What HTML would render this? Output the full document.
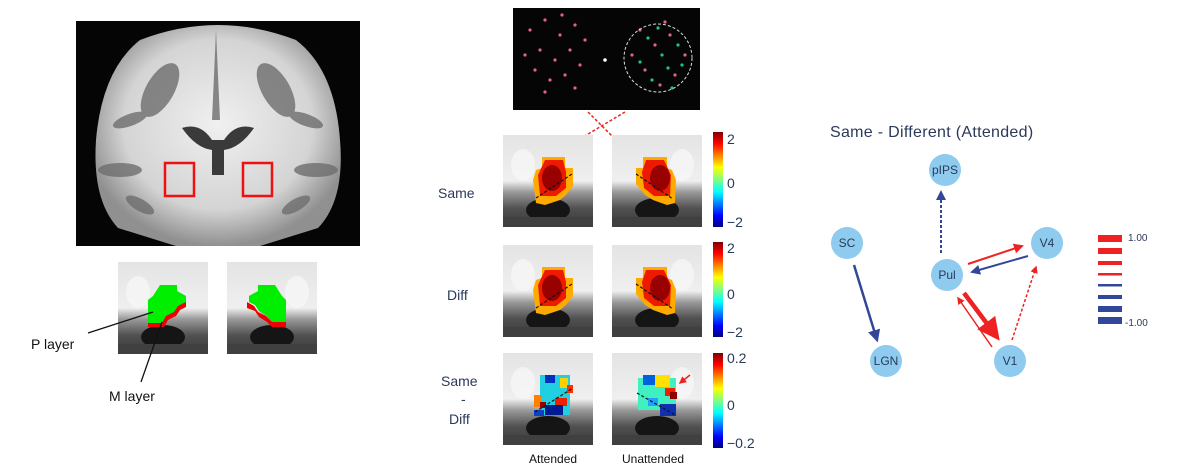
<!DOCTYPE html>
<html><head><meta charset="utf-8"><style>
html,body{margin:0;padding:0;background:#fff;}
svg{display:block;font-family:"Liberation Sans","DejaVu Sans",sans-serif;}
</style></head><body>
<svg width="1199" height="475" viewBox="0 0 1199 475" xmlns="http://www.w3.org/2000/svg">
<defs>
 <radialGradient id="brainG" cx="50%" cy="45%" r="55%">
  <stop offset="0" stop-color="#f0f0f0"/><stop offset="0.7" stop-color="#d4d4d4"/><stop offset="1" stop-color="#909090"/>
 </radialGradient>
 <linearGradient id="thG" x1="0" y1="0" x2="0" y2="1">
  <stop offset="0" stop-color="#e4e4e4"/><stop offset="0.5" stop-color="#efefef"/><stop offset="0.62" stop-color="#9a9a9a"/><stop offset="0.8" stop-color="#505050"/><stop offset="1" stop-color="#3a3a3a"/>
 </linearGradient>
 <linearGradient id="jet" x1="0" y1="0" x2="0" y2="1">
  <stop offset="0" stop-color="#800000"/><stop offset="0.12" stop-color="#ff0000"/><stop offset="0.37" stop-color="#ffff00"/><stop offset="0.5" stop-color="#80ff80"/><stop offset="0.63" stop-color="#00ffff"/><stop offset="0.88" stop-color="#0000ff"/><stop offset="1" stop-color="#000080"/>
 </linearGradient>
 <symbol id="thumb" viewBox="0 0 90 92" width="90" height="92">
  <rect width="90" height="92" fill="url(#thG)"/>
  <ellipse cx="20" cy="30" rx="12" ry="16" fill="#f8f8f8" opacity="0.7"/>
  <ellipse cx="45" cy="75" rx="22" ry="12" fill="#151515"/>
  <rect x="0" y="82" width="90" height="10" fill="#404040"/>
 </symbol>
 <symbol id="thumbR" viewBox="0 0 90 92" width="90" height="92">
  <rect width="90" height="92" fill="url(#thG)"/>
  <ellipse cx="70" cy="30" rx="12" ry="16" fill="#f8f8f8" opacity="0.7"/>
  <ellipse cx="45" cy="75" rx="22" ry="12" fill="#151515"/>
  <rect x="0" y="82" width="90" height="10" fill="#404040"/>
 </symbol>
 <marker id="aR" viewBox="0 0 10 10" refX="8" refY="5" markerWidth="5" markerHeight="5" orient="auto"><path d="M0,0L10,5L0,10z" fill="#ee2222"/></marker>
 <marker id="aB" viewBox="0 0 10 10" refX="8" refY="5" markerWidth="5" markerHeight="5" orient="auto"><path d="M0,0L10,5L0,10z" fill="#33479a"/></marker>
</defs>

<!-- Left brain -->
<rect x="76" y="21" width="284" height="225" fill="#050505"/>
<path d="M140,40 Q218,10 296,40 Q335,70 340,140 Q345,200 318,228 L260,246 L176,246 L118,228 Q92,200 96,140 Q102,70 140,40Z" fill="url(#brainG)"/>
<g fill="#6e6e6e" opacity="0.8">
 <path d="M216,30 L220,120 L212,120Z"/>
 <ellipse cx="160" cy="90" rx="14" ry="30" transform="rotate(30 160 90)"/>
 <ellipse cx="276" cy="90" rx="14" ry="30" transform="rotate(-30 276 90)"/>
 <ellipse cx="120" cy="170" rx="22" ry="7"/>
 <ellipse cx="316" cy="170" rx="22" ry="7"/>
 <ellipse cx="130" cy="120" rx="18" ry="6" transform="rotate(-20 130 120)"/>
 <ellipse cx="306" cy="120" rx="18" ry="6" transform="rotate(20 306 120)"/>
 <ellipse cx="140" cy="205" rx="16" ry="6" transform="rotate(30 140 205)"/>
 <ellipse cx="296" cy="205" rx="16" ry="6" transform="rotate(-30 296 205)"/>
</g>
<path d="M182,128 Q200,122 212,140 L224,140 Q236,122 254,128 Q240,148 224,150 L224,175 L212,175 L212,150 Q196,148 182,128Z" fill="#3a3a3a"/>
<rect x="165" y="163" width="29" height="33" fill="none" stroke="#ee1111" stroke-width="2.5"/>
<rect x="243" y="163" width="29" height="33" fill="none" stroke="#ee1111" stroke-width="2.5"/>

<!-- small thumbs -->
<use href="#thumb" x="118" y="262"/>
<use href="#thumbR" x="227" y="262"/>
<path d="M160,285 L177,285 L177,291 L186,296 L186,305 L180,308 L176,314 L168,318 L164,325 L148,325 L148,300 L153,296Z" fill="#00ee00"/>
<path d="M186,302 L186,307 L180,310 L176,316 L168,320 L164,327 L148,327 L148,323 L162,323 L166,316 L174,312 L178,306Z" fill="#ee0000"/>
<path d="M275,285 L258,285 L258,291 L249,296 L249,302 L255,305 L259,311 L267,316 L272,322 L286,322 L286,300 L282,296Z" fill="#00ee00"/>
<path d="M247,302 L247,308 L255,311 L259,317 L267,322 L272,327 L286,327 L286,322 L272,322 L266,316 L258,312 L254,306Z" fill="#ee0000"/>
<line x1="88" y1="333" x2="153" y2="312" stroke="#111" stroke-width="1.3"/>
<line x1="141" y1="382" x2="162" y2="322" stroke="#111" stroke-width="1.3"/>
<text x="31" y="349" font-size="14" fill="#111">P layer</text>
<text x="109" y="401" font-size="14" fill="#111">M layer</text>

<!-- stimulus -->
<rect x="513" y="8" width="187" height="102" fill="#050505"/>
<g fill="#e0609a">
 <circle cx="530" cy="30" r="1.6"/><circle cx="545" cy="20" r="1.6"/><circle cx="560" cy="35" r="1.6"/><circle cx="575" cy="25" r="1.6"/><circle cx="540" cy="50" r="1.6"/><circle cx="555" cy="60" r="1.6"/><circle cx="570" cy="50" r="1.6"/><circle cx="585" cy="40" r="1.6"/><circle cx="535" cy="70" r="1.6"/><circle cx="550" cy="80" r="1.6"/><circle cx="565" cy="75" r="1.6"/><circle cx="580" cy="65" r="1.6"/><circle cx="545" cy="92" r="1.6"/><circle cx="575" cy="88" r="1.6"/><circle cx="525" cy="55" r="1.6"/><circle cx="562" cy="15" r="1.6"/>
 <circle cx="640" cy="30" r="1.6"/><circle cx="655" cy="45" r="1.6"/><circle cx="670" cy="35" r="1.6"/><circle cx="685" cy="55" r="1.6"/><circle cx="645" cy="70" r="1.6"/><circle cx="660" cy="85" r="1.6"/><circle cx="675" cy="75" r="1.6"/><circle cx="632" cy="55" r="1.6"/><circle cx="665" cy="22" r="1.6"/>
</g>
<g fill="#20c090">
 <circle cx="648" cy="38" r="1.6"/><circle cx="662" cy="55" r="1.6"/><circle cx="678" cy="45" r="1.6"/><circle cx="640" cy="62" r="1.6"/><circle cx="668" cy="68" r="1.6"/><circle cx="652" cy="80" r="1.6"/><circle cx="682" cy="65" r="1.6"/><circle cx="658" cy="28" r="1.6"/><circle cx="672" cy="88" r="1.6"/>
</g>
<circle cx="605" cy="60" r="1.8" fill="#fff"/>
<circle cx="658" cy="58" r="34" fill="none" stroke="#ddd" stroke-width="1" stroke-dasharray="3,2"/>
<line x1="588" y1="112" x2="622" y2="146" stroke="#ee2222" stroke-width="1.5" stroke-dasharray="3,2" marker-end="url(#aR)"/>
<line x1="625" y1="112" x2="568" y2="146" stroke="#ee2222" stroke-width="1.5" stroke-dasharray="3,2" marker-end="url(#aR)"/>

<!-- thumbs grid -->
<g>
 <use href="#thumb" x="503" y="135"/><use href="#thumbR" x="612" y="135"/>
 <use href="#thumb" x="503" y="245"/><use href="#thumbR" x="612" y="245"/>
 <use href="#thumb" x="503" y="353"/><use href="#thumbR" x="612" y="353"/>
</g>
<g id="hL">
 <path d="M542,157 L565,157 L565,168 L573,168 L573,186 L566,195 L560,200 L545,205 L536,203 L533,180 L536,170 L542,168Z" fill="#ffaa00"/>
 <path d="M545,160 L563,160 L566,172 L566,188 L556,196 L540,196 L538,175Z" fill="#ee1a00"/>
 <ellipse cx="552" cy="178" rx="10" ry="13" fill="#990000"/>
 <line x1="536" y1="198" x2="572" y2="174" stroke="#111" stroke-width="1.2" stroke-dasharray="3,2"/>
</g>
<g id="hR">
 <path d="M667,157 L643,157 L643,168 L636,168 L636,184 L645,195 L653,200 L667,205 L675,203 L676,180 L672,170 L667,168Z" fill="#ffaa00"/>
 <path d="M664,160 L646,160 L642,172 L644,188 L654,196 L670,196 L671,175Z" fill="#ee1a00"/>
 <ellipse cx="660" cy="178" rx="10" ry="13" fill="#990000"/>
 <line x1="636" y1="174" x2="673" y2="199" stroke="#111" stroke-width="1.2" stroke-dasharray="3,2"/>
</g>
<use href="#hL" y="110"/><use href="#hR" y="110"/>
<g>
 <rect x="540" y="375" width="30" height="40" fill="#20d0e0"/>
 <rect x="545" y="375" width="10" height="8" fill="#0030c0"/>
 <rect x="560" y="378" width="8" height="10" fill="#ffd000"/>
 <rect x="534" y="395" width="8" height="12" fill="#ff8000"/>
 <rect x="555" y="398" width="12" height="8" fill="#ee2000"/>
 <rect x="545" y="405" width="18" height="10" fill="#001a90"/>
 <rect x="534" y="410" width="10" height="6" fill="#1040c0"/>
 <rect x="540" y="402" width="6" height="6" fill="#900000"/>
 <rect x="567" y="385" width="6" height="8" fill="#ff3000"/>
 <line x1="535" y1="412" x2="573" y2="388" stroke="#111" stroke-width="1.2" stroke-dasharray="3,2"/>
</g>
<g>
 <rect x="638" y="378" width="38" height="32" fill="#40f0c0"/>
 <rect x="643" y="375" width="12" height="10" fill="#0060e0"/>
 <rect x="655" y="375" width="15" height="12" fill="#ffe000"/>
 <rect x="665" y="388" width="10" height="8" fill="#ee2000"/>
 <rect x="670" y="392" width="7" height="7" fill="#900000"/>
 <rect x="660" y="404" width="16" height="12" fill="#1030b0"/>
 <rect x="648" y="398" width="10" height="8" fill="#20a0ff"/>
 <line x1="637" y1="393" x2="675" y2="415" stroke="#111" stroke-width="1.2" stroke-dasharray="3,2"/>
</g>
<line x1="690" y1="375" x2="680" y2="383" stroke="#ee2222" stroke-width="1.5" marker-end="url(#aR)"/>

<!-- colorbars -->
<g font-size="14" fill="#2a3a5a">
 <rect x="713" y="132" width="10" height="95" fill="url(#jet)"/>
 <text x="727" y="144">2</text><text x="727" y="188">0</text><text x="727" y="227">−2</text>
 <rect x="713" y="242" width="10" height="95" fill="url(#jet)"/>
 <text x="727" y="253">2</text><text x="727" y="299">0</text><text x="727" y="337">−2</text>
 <rect x="713" y="353" width="10" height="95" fill="url(#jet)"/>
 <text x="727" y="363">0.2</text><text x="727" y="410">0</text><text x="727" y="448">−0.2</text>
</g>
<g font-size="14" fill="#2a3a5a">
 <text x="438" y="198">Same</text>
 <text x="447" y="300">Diff</text>
 <text x="441" y="386">Same</text>
 <text x="461" y="404">-</text>
 <text x="449" y="424">Diff</text>
</g>
<text x="529" y="463" font-size="12" fill="#111">Attended</text>
<text x="622" y="463" font-size="12" fill="#111">Unattended</text>

<!-- network -->
<text x="830" y="137" font-size="16" fill="#2a3a5a" letter-spacing="0.3">Same - Different (Attended)</text>
<g stroke-width="2" fill="none">
 <line x1="941" y1="253" x2="941" y2="192" stroke="#33479a" stroke-dasharray="3,2" marker-end="url(#aB)"/>
 <line x1="854" y1="265" x2="877" y2="340" stroke="#33479a" stroke-width="2.5" marker-end="url(#aB)"/>
 <line x1="968" y1="264" x2="1022" y2="246" stroke="#ee2222" marker-end="url(#aR)"/>
 <line x1="1028" y1="256" x2="972" y2="272" stroke="#33479a" marker-end="url(#aB)"/>
 <line x1="964" y1="293" x2="997" y2="337" stroke="#ee2222" stroke-width="4.5" marker-end="url(#aR)"/>
 <line x1="992" y1="347" x2="958" y2="298" stroke="#ee2222" stroke-width="1.5" marker-end="url(#aR)"/>
 <line x1="1012" y1="340" x2="1036" y2="267" stroke="#ee2222" stroke-width="1.5" stroke-dasharray="3,2" marker-end="url(#aR)"/>
</g>
<g fill="#8ecbee">
 <circle cx="945" cy="170" r="16"/><circle cx="847" cy="243" r="16"/><circle cx="1047" cy="243" r="16"/>
 <circle cx="947" cy="275" r="16"/><circle cx="886" cy="361" r="16"/><circle cx="1010" cy="361" r="16"/>
</g>
<g font-size="12" fill="#2a3a5a" text-anchor="middle">
 <text x="945" y="174">pIPS</text><text x="847" y="247">SC</text><text x="1047" y="247">V4</text>
 <text x="947" y="279">Pul</text><text x="886" y="365">LGN</text><text x="1010" y="365">V1</text>
</g>
<g>
 <rect x="1098" y="235" width="24" height="7" fill="#ee2222"/>
 <rect x="1098" y="248" width="24" height="6" fill="#ee2222"/>
 <rect x="1098" y="261" width="24" height="4" fill="#ee2222"/>
 <rect x="1098" y="273" width="24" height="2.5" fill="#ee2222"/>
 <rect x="1098" y="284" width="24" height="2.5" fill="#33479a"/>
 <rect x="1098" y="295" width="24" height="4" fill="#33479a"/>
 <rect x="1098" y="306" width="24" height="6" fill="#33479a"/>
 <rect x="1098" y="317" width="24" height="7" fill="#33479a"/>
</g>
<text x="1128" y="241" font-size="10" fill="#2a3a5a">1.00</text>
<text x="1125" y="326" font-size="10" fill="#2a3a5a">-1.00</text>
</svg>
</body></html>
